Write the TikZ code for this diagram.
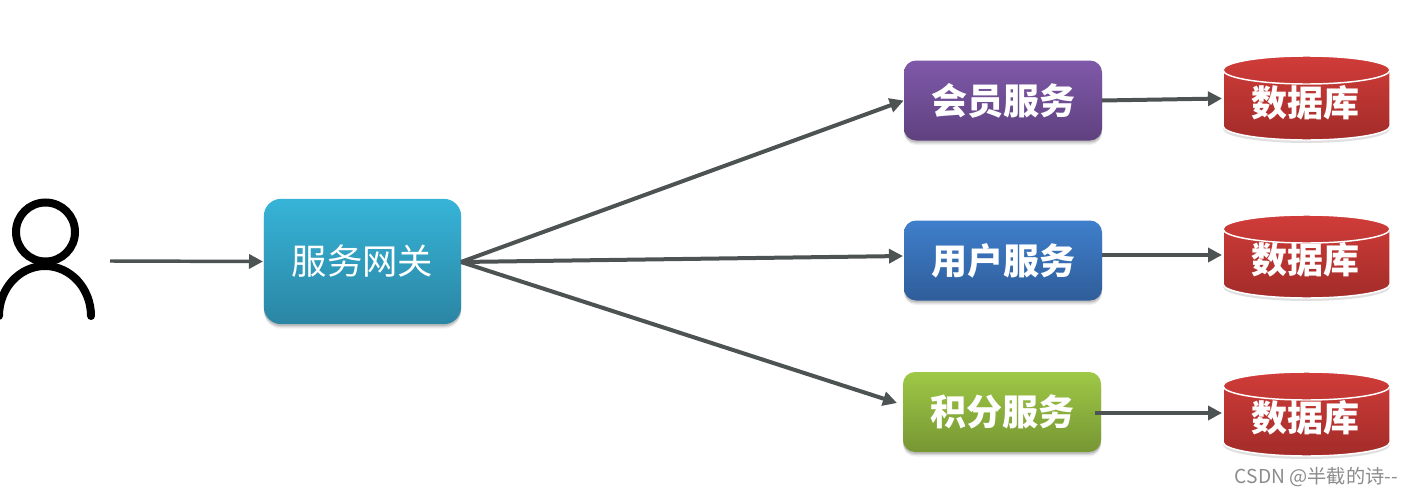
\documentclass[tikz,border=0pt]{standalone}
\usepackage{fontspec}
\setmainfont{Noto Sans CJK SC}
\usetikzlibrary{shadows,arrows.meta}
\definecolor{linec}{HTML}{4D5352}
\definecolor{gatetop}{HTML}{36B4D8}\definecolor{gatebot}{HTML}{2B85A3}
\definecolor{purptop}{HTML}{7F59A9}\definecolor{purpbot}{HTML}{5F417F}
\definecolor{bluetop}{HTML}{3F7FCC}\definecolor{bluebot}{HTML}{2F5D99}
\definecolor{greentop}{HTML}{9FC846}\definecolor{greenbot}{HTML}{769633}
\definecolor{redtop}{HTML}{D03C39}\definecolor{redbot}{HTML}{A22C29}
\tikzset{
  softshadow/.style={
    general shadow={shadow xshift=0pt,shadow yshift=-3.4pt,fill=black,opacity=.06},
    general shadow={shadow xshift=0pt,shadow yshift=-2.4pt,fill=black,opacity=.09},
    general shadow={shadow xshift=0pt,shadow yshift=-1.4pt,fill=black,opacity=.12,scale=1.008}},
  svcbox/.style={rounded corners=9pt,minimum width=148.5pt,minimum height=60pt,inner sep=0pt,
    text=white,font=\fontsize{27}{27}\selectfont\bfseries,softshadow},
  gatebox/.style={rounded corners=13pt,minimum width=148pt,minimum height=94pt,inner sep=0pt,
    top color=gatetop,bottom color=gatebot,text=white,font=\fontsize{26.5}{27}\selectfont,softshadow},
  dblabel/.style={minimum width=125pt,minimum height=63pt,inner sep=0pt,text=white,
    font=\fontsize{27}{27}\selectfont\bfseries},
  conn/.style={draw=linec,line width=3pt,-{Triangle[length=10.5pt,width=10.5pt]}},
  thinconn/.style={draw=linec,line width=2.6pt,-{Triangle[length=10.5pt,width=10.5pt]}},
  personline/.style={draw=black,line width=6pt,line cap=round},
  dbedge/.style={draw=white,line width=1.1pt}
}
% #1 centre x, #2 top y, #3 bottom y (in reference pixels)
\newcommand{\dbdraw}[3]{%
  \begin{scope}
  \fill[black,opacity=.12] (#1-83.5,#2+16) -- (#1-83.5,#3-11) arc[start angle=180,end angle=0,x radius=83.5,y radius=14] -- (#1+83.5,#2+16) -- cycle;
  \path[dbedge,top color=redtop,bottom color=redbot]
    (#1-83.5,#2+14) arc[start angle=180,end angle=360,x radius=83.5,y radius=14]
    -- (#1+83.5,#3-14) arc[start angle=0,end angle=180,x radius=83.5,y radius=14] -- cycle;
  \draw[dbedge] (#1-83.5,#2+14) arc[start angle=180,end angle=0,x radius=83.5,y radius=14];
  \end{scope}}
\begin{document}
\begin{tikzpicture}[x=0.75pt,y=-0.75pt]
\useasboundingbox (0,0) rectangle (1413,496);
\fill[white] (0,0) rectangle (1413,496);
% person
\draw[personline] (45.5,232) circle[radius=29.5];
\draw[personline] (91,316) arc[start angle=0,end angle=-180,x radius=46,y radius=50];
\coordinate (person) at (110,261);
% boxes
\node[gatebox] (gate) at (362.5,261.5) {服务网关};
\node[svcbox,top color=purptop,bottom color=purpbot] (member) at (1003,100.5) {会员服务};
\node[svcbox,top color=bluetop,bottom color=bluebot] (user) at (1003,260.5) {用户服务};
\node[svcbox,top color=greentop,bottom color=greenbot] (credit) at (1002,412) {积分服务};
% databases
\dbdraw{1306.5}{56}{140}
\dbdraw{1306.5}{215}{298}
\dbdraw{1306.5}{372}{456}
\node[dblabel] (db1) at (1305,103) {数据库};
\node[dblabel] (db2) at (1305,260) {数据库};
\node[dblabel] (db3) at (1305,418) {数据库};
% connector end points
\coordinate (gateout) at (461,262);
\coordinate (userin) at (903,256);
\coordinate (creditin) at (897,403);
\coordinate (m1) at (1102,100.5);
\coordinate (d1) at (1222,98.5);
\coordinate (u1) at (1102,255);
\coordinate (d2) at (1222,255);
\coordinate (c1) at (1095,413);
\coordinate (d3) at (1222,413);
\coordinate (gatein) at (263,261.5);
% connectors
\draw[thinconn] (person) -- (gatein);
\draw[conn] (gateout) -- (member.west);
\draw[conn] (gateout) -- (userin);
\draw[conn] (gateout) -- (creditin);
\draw[conn] (m1) -- (d1);
\draw[conn] (u1) -- (d2);
\draw[conn] (c1) -- (d3);
% watermark
\node[anchor=east,inner sep=0pt,text=black!45,font=\fontsize{14.4}{15}\selectfont] (mark) at (1398,477) {CSDN @半截的诗-{}-};
\end{tikzpicture}
\end{document}
